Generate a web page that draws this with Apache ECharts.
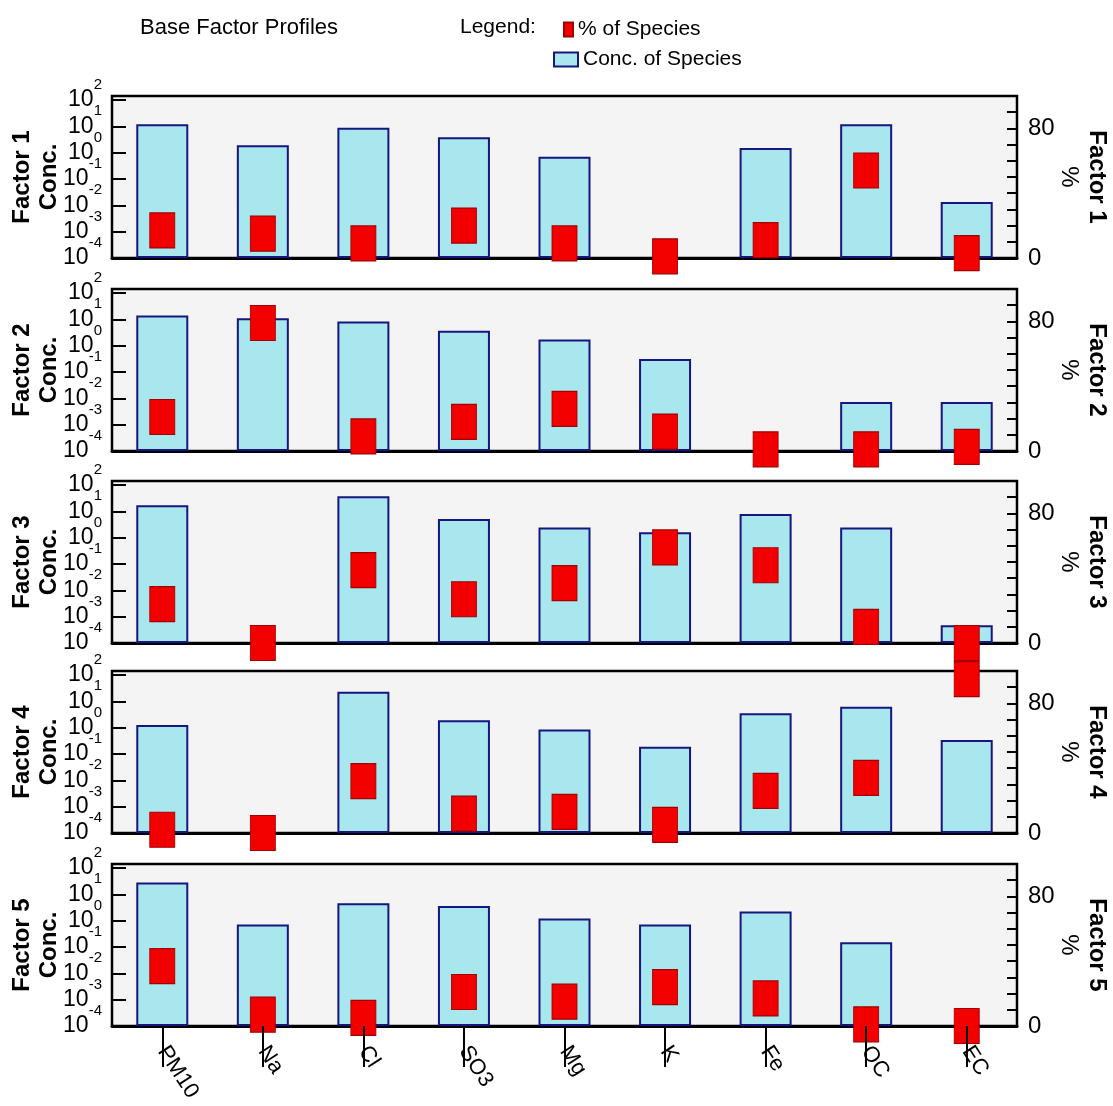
<!DOCTYPE html>
<html>
<head>
<meta charset="utf-8">
<title>Base Factor Profiles</title>
<script src="https://cdn.jsdelivr.net/npm/echarts@6/dist/echarts.min.js"></script>
<style>
html, body { margin: 0; padding: 0; background: #fff; }
#main { width: 1113px; height: 1106px; }
</style>
</head>
<body>
<div id="main"></div>
<script>
var species = ['PM10', 'Na', 'Cl', 'SO3', 'Mg', 'K', 'Fe', 'OC', 'EC'];
var factorNames = ['Factor 1', 'Factor 2', 'Factor 3', 'Factor 4', 'Factor 5'];

// concentration of species (0 = no bar)
var concF1 = [12, 1.9, 8.9, 3.8, 0.7, 0, 1.5, 12, 0.0135];
var concF2 = [14, 11, 8.3, 3.7, 1.7, 0.31, 0, 0.0072, 0.0072];
var concF3 = [17, 0, 37, 5.1, 2.4, 1.6, 7.9, 2.4, 0.00047];
var concF4 = [1.25, 0, 23, 1.9, 0.85, 0.19, 3.5, 6.2, 0.34];
var concF5 = [28, 0.71, 4.6, 3.6, 1.2, 0.71, 2.2, 0.15, 0];

// % of species
var pctF1 = [17, 15, 9, 20, 9, 1, 11, 54, 3];
var pctF2 = [21, 79, 9, 18, 26, 12, 1, 1, 2.5];
var pctF3 = [24, 0, 45, 27, 37, 59, 48, 10, 0];
var pctF4 = [2, 0, 32, 12, 13, 5, 26, 34, 95];
var pctF5 = [37, 7, 5, 21, 15, 24, 17, 1, 0];

// tick labels
var concExponents = [-4, -3, -2, -1, 0, 1, 2];
var pctLabels = [0, 80];

var concData = [concF1, concF2, concF3, concF4, concF5];
var pctData = [pctF1, pctF2, pctF3, pctF4, pctF5];

var LOG_MIN = concExponents[0];
var LOG_MAX = concExponents[concExponents.length - 1] - LOG_MIN + 0.15;
var font = "'Liberation Sans', Arial, sans-serif";

function toLog(v) {
	return v > 0 ? Math.log10(v) - LOG_MIN : '-';
}

// "10" with a raised exponent
var powRich = {
	b: { fontSize: 23, fontFamily: font, color: '#000', verticalAlign: 'middle' },
	s: { fontSize: 15, fontFamily: font, color: '#000', verticalAlign: 'top', padding: [0, 0, 30, 0] }
};
function powLabel(v) {
	if (Math.abs(v - Math.round(v)) > 1e-6) return '';
	return '{b|10}{s|' + (Math.round(v) + LOG_MIN) + '}';
}

var gridTops = [96, 289, 481, 671, 864];
var grids = [], xAxes = [], yAxes = [], series = [];

gridTops.forEach(function (top, i) {
	var last = i === gridTops.length - 1;
	grids.push({
		left: 112, right: 96, top: top, height: 162,
		show: true, backgroundColor: '#f4f4f4',
		borderColor: '#000', borderWidth: 2.5,
		outerBoundsMode: 'none'
	});
	xAxes.push({
		type: 'category', gridIndex: i, data: species,
		axisLine: { lineStyle: { color: '#000', width: 3 } },
		axisTick: { show: false },
		axisLabel: {
			show: last, interval: 0, rotate: -57, margin: 22,
			color: '#000', fontSize: 22, fontFamily: font
		}
	});
	// concentration (log) axis
	yAxes.push({
		type: 'value', gridIndex: i, position: 'left',
		min: 0, max: LOG_MAX, interval: 1,
		splitLine: { show: false },
		axisLine: { show: false },
		axisTick: { show: true, inside: true, length: 14, lineStyle: { color: '#000', width: 2 } },
		axisLabel: {
			margin: 10, showMinLabel: false,
			formatter: powLabel, rich: powRich
		},
		name: factorNames[i] + '\nConc.',
		nameLocation: 'middle', nameRotate: 90, nameGap: 49, nameMoveOverlap: false,
		nameTextStyle: { fontSize: 24, fontWeight: 'bold', lineHeight: 27, color: '#000', fontFamily: font }
	});
	// % axis
	yAxes.push({
		type: 'value', gridIndex: i, position: 'right',
		min: 0, max: 100, interval: 10,
		splitLine: { show: false },
		axisLine: { show: false },
		axisTick: { show: true, inside: true, length: 10, lineStyle: { color: '#000', width: 2 } },
		axisLabel: {
			margin: 11, color: '#000', fontSize: 24, fontFamily: font,
			formatter: function (v) { return pctLabels.indexOf(v) >= 0 ? String(v) : ''; }
		},
		name: '{f|' + factorNames[i] + '}\n{p|%}',
		nameLocation: 'middle', nameRotate: -90, nameGap: 38, nameMoveOverlap: false,
		nameTextStyle: {
			rich: {
				f: { fontSize: 24, fontWeight: 'bold', lineHeight: 28, color: '#000', fontFamily: font },
				p: { fontSize: 24, lineHeight: 28, color: '#000', fontFamily: font }
			}
		}
	});
	// bottom label of the log axis only (kept apart so it does not hide its neighbour)
	yAxes.push({
		type: 'value', gridIndex: i, position: 'left',
		min: 0, max: LOG_MAX, interval: 1,
		splitLine: { show: false },
		axisLine: { show: false },
		axisTick: { show: false },
		axisLabel: {
			margin: 10, showMinLabel: true, showMaxLabel: false,
			formatter: function (v) { return v === 0 ? powLabel(v) : ''; },
			rich: powRich
		}
	});
	series.push({
		type: 'bar', name: 'Conc. of Species',
		xAxisIndex: i, yAxisIndex: 3 * i,
		data: concData[i].map(toLog),
		barWidth: 52,
		itemStyle: { color: '#a9e7ef', borderColor: '#16167e', borderWidth: 2 }
	});
	series.push({
		type: 'scatter', name: '% of Species',
		xAxisIndex: i, yAxisIndex: 3 * i + 1,
		data: pctData[i],
		symbol: 'rect', symbolSize: [25, 35], clip: false, z: 5,
		itemStyle: { color: '#f20000', borderColor: '#a00000', borderWidth: 1, opacity: 1 }
	});
});

// species tick marks below the last panel, drawn over the markers
xAxes.push({
	type: 'category', gridIndex: gridTops.length - 1, data: species,
	offset: 24, z: 10,
	axisLine: { show: false },
	axisLabel: { show: false },
	axisTick: { show: true, inside: true, length: 41, alignWithLabel: true, lineStyle: { color: '#000', width: 2 } }
});

var myChart = echarts.init(document.getElementById('main'));
var option = {
	backgroundColor: '#fff',
	animation: false,
	title: [
		{ text: 'Base Factor Profiles', left: 135, top: 12, textStyle: { fontSize: 22, fontWeight: 'normal', color: '#000', fontFamily: font } },
		{ text: 'Legend:', left: 455, top: 12, textStyle: { fontSize: 21, fontWeight: 'normal', color: '#000', fontFamily: font } }
	],
	legend: [
		{
			data: [{ name: '% of Species', icon: 'rect' }],
			left: 558, top: 14, itemWidth: 9, itemHeight: 14, itemGap: 6,
			textStyle: { fontSize: 21, color: '#000', fontFamily: font }
		},
		{
			data: [{ name: 'Conc. of Species', icon: 'rect' }],
			left: 548, top: 44, itemWidth: 24, itemHeight: 14,
			textStyle: { fontSize: 21, color: '#000', fontFamily: font }
		}
	],
	grid: grids,
	xAxis: xAxes,
	yAxis: yAxes,
	series: series
};
myChart.setOption(option);
</script>
</body>
</html>
